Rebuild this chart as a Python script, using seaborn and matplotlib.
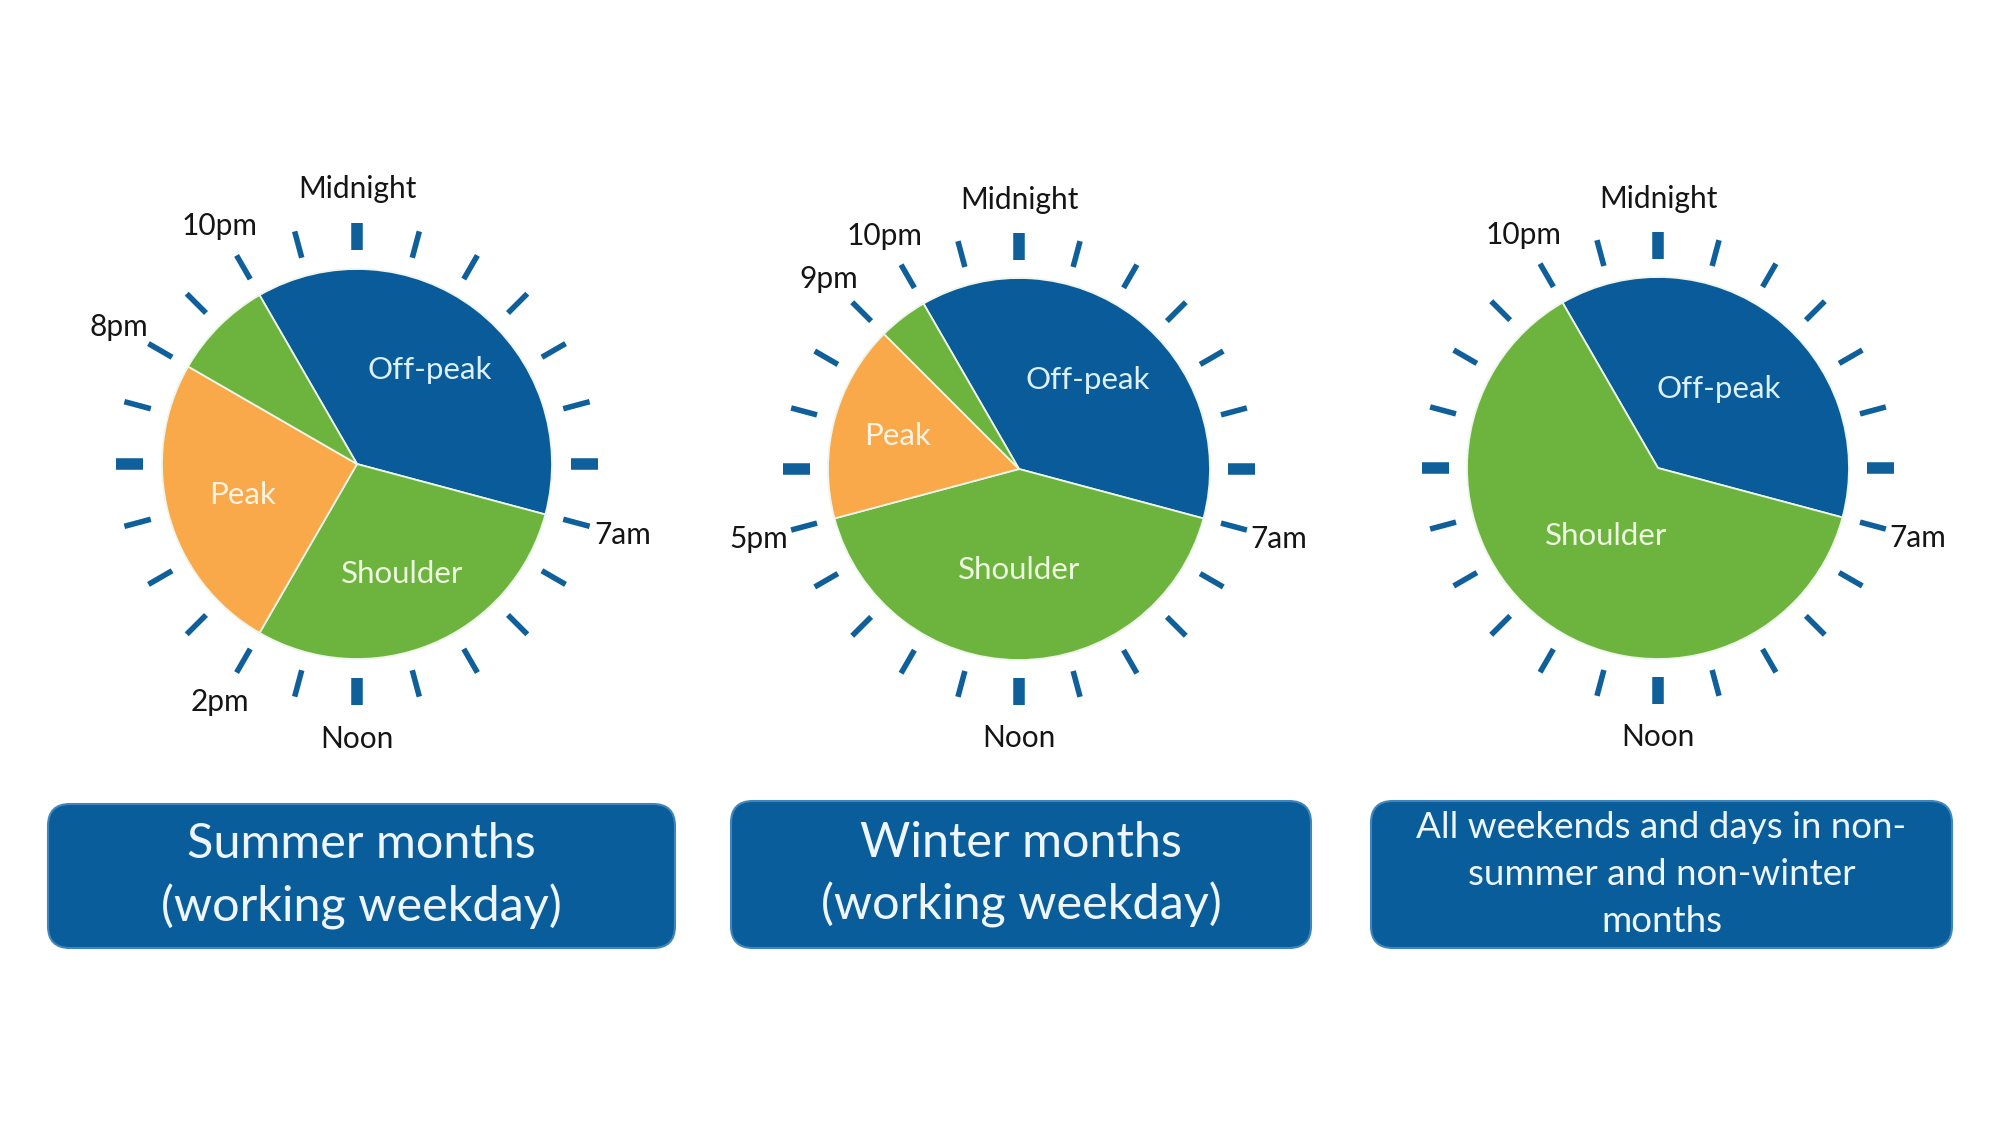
import numpy as np
import matplotlib
matplotlib.use("Agg")
import matplotlib.pyplot as plt
import seaborn as sns
from matplotlib.patches import FancyBboxPatch

# ---------------- data ----------------
summer_periods = ["Off-peak", "Shoulder", "Peak", "Shoulder"]
summer_hours = [9, 7, 6, 2]
winter_periods = ["Off-peak", "Shoulder", "Peak", "Shoulder"]
winter_hours = [9, 10, 4, 1]
other_periods = ["Off-peak", "Shoulder"]
other_hours = [9, 15]
start_hour = 22  # every clock starts at 10pm

summer_marks = {0: "Midnight", 7: "7am", 12: "Noon", 14: "2pm", 20: "8pm", 22: "10pm"}
winter_marks = {0: "Midnight", 7: "7am", 12: "Noon", 17: "5pm", 21: "9pm", 22: "10pm"}
other_marks = {0: "Midnight", 7: "7am", 12: "Noon", 22: "10pm"}

titles = ["Summer months\n(working weekday)",
          "Winter months\n(working weekday)",
          "All weekends and days in non-\nsummer and non-winter\nmonths"]

# ---------------- style ----------------
sns.set_theme(style="white")
plt.rcParams["font.family"] = ["Lato", "DejaVu Sans"]

period_colors = {"Off-peak": "#0a5b99", "Shoulder": "#6db43f", "Peak": "#f9a94a"}
label_colors = {"Off-peak": "#dcf0fd", "Shoulder": "#eef8e2", "Peak": "#fef3e3"}
tick_color = "#0f5f9a"
box_color = "#0a5d9b"

W, H = 2000, 1125
fig = plt.figure(figsize=(W / 100, H / 100), dpi=100)
fig.patch.set_facecolor("white")
ax = fig.add_axes([0, 0, 1, 1])

# layout (pixel coordinates, y measured from top)
clocks = [
    dict(periods=summer_periods, hours=summer_hours, marks=summer_marks,
         center=(357, 464), R=195, lab_r=[0.61, 0.61, 0.61, 0.6]),
    dict(periods=winter_periods, hours=winter_hours, marks=winter_marks,
         center=(1019, 469), R=191, lab_r=[0.59, 0.53, 0.66, 0.6]),
    dict(periods=other_periods, hours=other_hours, marks=other_marks,
         center=(1658, 468), R=191, lab_r=[0.52, 0.45]),
]
boxes = [(48, 804, 675, 948, 35, 1.45), (731, 801, 1311, 948, 35, 1.45),
         (1371, 801, 1952, 948, 26.5, 1.5)]

for c in clocks:
    cx, cy = c["center"][0], H - c["center"][1]
    R = c["R"]
    cols = [period_colors[p] for p in c["periods"]]
    ax.pie(c["hours"], colors=cols, startangle=90 - 15 * start_hour,
           counterclock=False, center=(cx, cy), radius=R,
           wedgeprops=dict(edgecolor="#eef5ea", linewidth=1.3))
    # wedge labels at mid-angle
    cum = start_hour
    seen = set()
    for p, h, lr in zip(c["periods"], c["hours"], c["lab_r"]):
        mid = cum + h / 2.0
        cum += h
        if p in seen:
            continue
        seen.add(p)
        a = np.deg2rad(90 - 15 * mid)
        ax.text(cx + lr * R * np.cos(a), cy + lr * R * np.sin(a), p,
                ha="center", va="center", fontsize=22.5, color=label_colors[p])
    # clock ticks
    for hr in range(24):
        a = np.deg2rad(90 - 15 * hr)
        major = hr % 6 == 0
        r0, r1 = 1.095 * R, 1.235 * R
        ax.plot([cx + r0 * np.cos(a), cx + r1 * np.cos(a)],
                [cy + r0 * np.sin(a), cy + r1 * np.sin(a)],
                color=tick_color, lw=8.3 if major else 4.0,
                solid_capstyle="butt")
    # hour labels
    for hr, txt in c["marks"].items():
        a = np.deg2rad(90 - 15 * hr)
        rr = 1.41 * R
        ax.text(cx + rr * np.cos(a), cy + rr * np.sin(a), txt,
                ha="center", va="center", fontsize=21.5, color="#151515")

for (x0, y0, x1, y1, fs, ls), t in zip(boxes, titles):
    patch = FancyBboxPatch((x0, H - y1), x1 - x0, y1 - y0,
                           boxstyle="round,pad=0,rounding_size=22",
                           facecolor=box_color, edgecolor="#3f86bd", linewidth=1.5)
    ax.add_patch(patch)
    ax.text((x0 + x1) / 2, H - (y0 + y1) / 2, t, ha="center", va="center",
            fontsize=fs, color="#eef6fc", linespacing=ls)

ax.set_xlim(0, W)
ax.set_ylim(0, H)
ax.set_aspect("equal")
ax.axis("off")

fig.savefig("out.png", dpi=100, facecolor="white")
